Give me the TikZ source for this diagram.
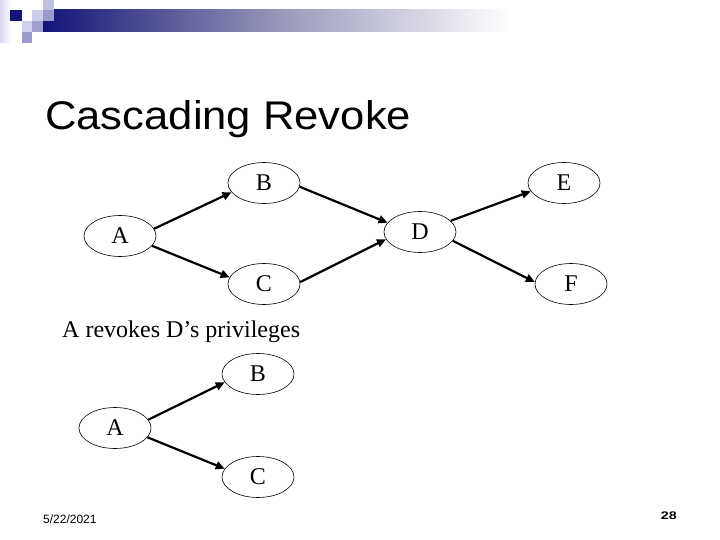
\documentclass[tikz,border=0pt]{standalone}
\usepackage{fontspec}
\setmainfont{Liberation Serif}
\newfontfamily\arialfont{Liberation Sans}
\usetikzlibrary{shapes.geometric,arrows.meta}
\definecolor{navy}{RGB}{20,20,120}
\definecolor{barmid}{RGB}{150,150,185}
\definecolor{sqlight}{RGB}{204,204,236}
\definecolor{sqpale}{RGB}{208,208,238}
\definecolor{sqmid}{RGB}{153,153,204}
\definecolor{sqmidb}{RGB}{160,160,208}
\definecolor{sqtop}{RGB}{192,192,224}
\definecolor{stripc}{RGB}{215,215,238}
\tikzset{
  ell/.style={ellipse, draw=black, line width=0.6pt, fill=white,
    minimum width=72pt, minimum height=41pt, inner sep=0pt,
    font=\fontsize{24}{24}\selectfont},
  arr/.style={line width=2.2pt, -{Triangle[length=9pt,width=8pt]}},
  sq/.style={draw=none}
}
\begin{document}
\begin{tikzpicture}[x=1pt,y=-1pt]
\useasboundingbox (0,0) rectangle (720,540);
\fill[white] (0,0) rectangle (720,540);
% header decoration
\shade[left color=stripc, right color=white] (0,0) rectangle (11,43);
\shade[left color=navy, right color=white, middle color=barmid] (43,10) rectangle (510,32);
\fill[navy] (10,10) rectangle (22,21);
\fill[sqlight] (32,10) rectangle (43,21);
\fill[sqtop] (43,0) rectangle (54,10);
\fill[sqmid] (43,10) rectangle (54,21);
\fill[sqpale] (22,21) rectangle (32,32);
\fill[sqmidb] (32,21) rectangle (43,32);
\fill[sqmid] (22,32) rectangle (32,43);
% title
\node[anchor=base west, inner sep=0pt] (title) at (45,130)
  {\scalebox{1.09}[1]{\arialfont\fontsize{40}{40}\selectfont Cascading Revoke}};
% first graph
\node[ell] (A) at (120,236) {A};
\node[ell] (B) at (264,183) {B};
\node[ell] (C) at (264,284) {C};
\node[ell] (D) at (420,232) {D};
\node[ell] (E) at (564,183) {E};
\node[ell] (F) at (571,284) {F};
\draw[arr] (A.12) -- (B.196);
\draw[arr] (A.-17) -- (C.169);
\draw[arr] (B.-6) -- (D.164);
\draw[arr] (C.3) -- (D.192);
\draw[arr] (D.20) -- (E.194);
\draw[arr] (D.-15) -- (F.177);
% caption
\node[anchor=base west, inner sep=0pt, font=\fontsize{24}{24}\selectfont] (cap) at (62,337) {A revokes D’s privileges};
% second graph
\node[ell] (A2) at (115,428) {A};
\node[ell] (B2) at (258,374) {B};
\node[ell] (C2) at (258,477) {C};
\draw[arr] (A2.14) -- (B2.194);
\draw[arr] (A2.-16) -- (C2.166);
% footer
\node[anchor=base west, inner sep=0pt, font=\arialfont\fontsize{12}{12}\selectfont] (date) at (43,523) {5/22/2021};
\node[anchor=base east, inner sep=0pt, font=\arialfont\bfseries\fontsize{11}{11}\selectfont] (page) at (677,519) {\scalebox{1.3}[1]{28}};
\end{tikzpicture}
\end{document}
